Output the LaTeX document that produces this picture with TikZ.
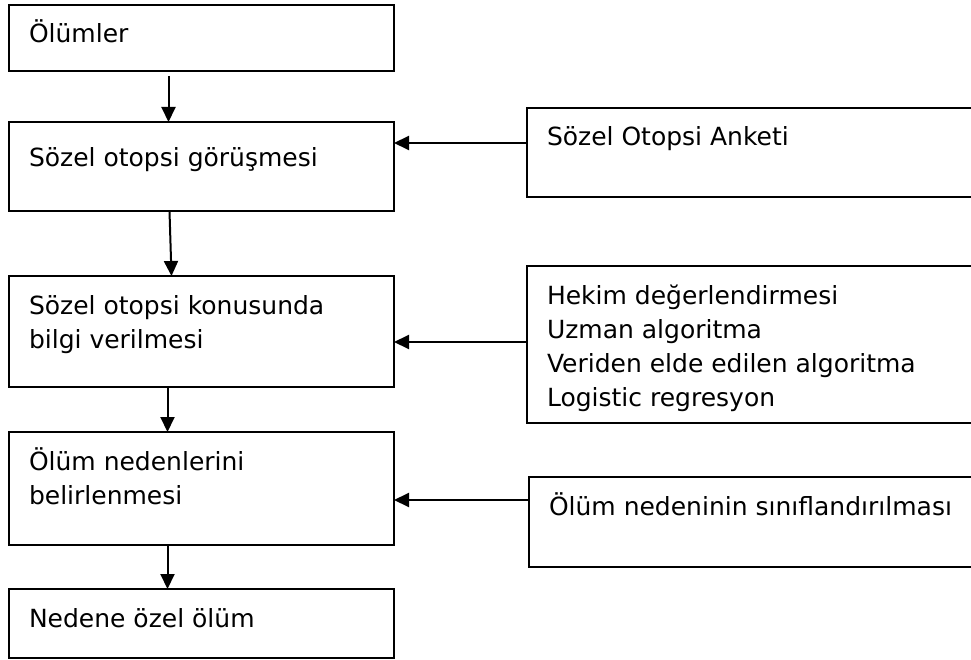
\documentclass[tikz,border=0pt]{standalone}
\usepackage{fontspec}
\setmainfont{DejaVu Sans}
\usetikzlibrary{positioning,arrows.meta}

\newcommand{\boxtext}[3]{\parbox[t][#1][t]{#2}{\raggedright\rule{0pt}{38pt}#3}}

\begin{document}
\begin{tikzpicture}[x=1pt, y=1pt, node distance = 45pt,
    box/.style = {draw, line width=2pt, anchor=north west, inner xsep=20pt,
                  inner ysep=0pt, outer sep=0pt,
                  font=\fontsize{25}{34}\selectfont},
    arr/.style = {line width=2pt, -{Triangle[length=15pt,width=14pt]}}]
        \useasboundingbox (0,0) rectangle (971,-660);

        % Left column
        \node[box] (b1) at (9,-5)        {\boxtext{66pt}{345pt}{Ölümler}};
        \node[box] (b2) [below=51pt of b1] {\boxtext{89pt}{345pt}{\rule{0pt}{45pt}Sözel otopsi görüşmesi}};
        \node[box] (b3) [below=65pt of b2] {\boxtext{111pt}{345pt}{\rule{0pt}{32pt}Sözel otopsi konusunda\\bilgi verilmesi}};
        \node[box] (b4) [below=of b3]      {\boxtext{113pt}{345pt}{\rule{0pt}{35pt}Ölüm nedenlerini\\belirlenmesi}};
        \node[box] (b5) [below=44pt of b4] {\boxtext{69pt}{345pt}{Nedene özel ölüm}};

        % Right column
        \node[box] (r1) at (527,-108) {\boxtext{89pt}{420pt}{Sözel Otopsi Anketi}};
        \node[box] (r2) at (527,-266) {\boxtext{157pt}{420pt}{\rule{0pt}{33pt}Hekim değerlendirmesi\\Uzman algoritma\\Veriden elde edilen algoritma\\Logistic regresyon}};
        \node[box] (r3) at (529,-477) {\boxtext{90pt}{420pt}{Ölüm nedeninin sınıflandırılması}};

        % Draw edges
        \draw[arr] ([xshift=-33pt,yshift=-5pt]b1.south) -- ([xshift=-33pt]b2.north);
        \draw[arr] ([xshift=-32pt]b2.south) -- ([xshift=-30pt]b3.north);
        \draw[arr] ([xshift=-34pt]b3.south) -- ([xshift=-34pt]b4.north);
        \draw[arr] ([xshift=-34pt]b4.south) -- ([xshift=-34pt]b5.north);
        \draw[arr] ([yshift=-35pt]r1.north west) -- ([yshift=-35pt]r1.north west -| b2.east);
        \draw[arr] ([yshift=-76pt]r2.north west) -- ([yshift=-76pt]r2.north west -| b3.east);
        \draw[arr] ([yshift=-23pt]r3.north west) -- ([yshift=-23pt]r3.north west -| b4.east);
    \end{tikzpicture}
\end{document}
